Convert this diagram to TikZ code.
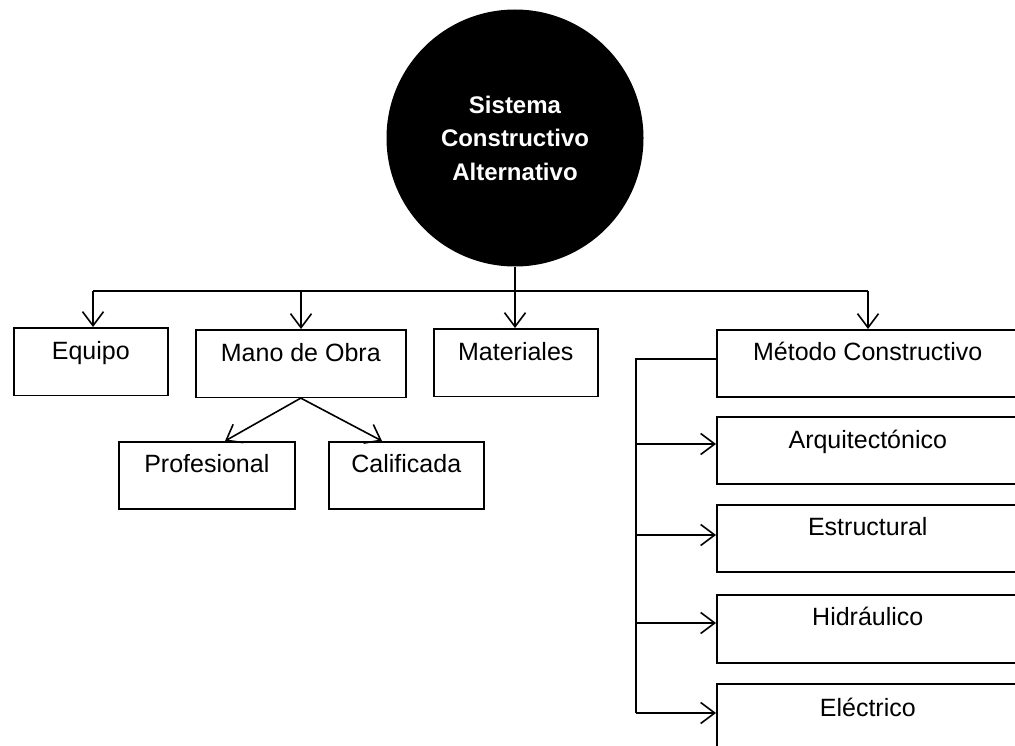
\documentclass[tikz,border=0pt]{standalone}
\usepackage{fontspec}
\setmainfont{Liberation Sans}
\usetikzlibrary{arrows.meta}
\begin{document}
\begin{tikzpicture}[x=1pt,y=-1pt,
  box/.style={draw, line width=1.6pt, inner xsep=0pt, inner ysep=0pt,
    text height=32pt, text depth=35.5pt, anchor=north west,
    font=\fontsize{25}{28}\selectfont},
  conn/.style={line width=1.6pt},
  arr/.style={conn, -{Straight Barb[length=14pt,width=21pt,line width=1.6pt]}}]
\useasboundingbox (0,0) rectangle (1015,746);
\fill[white] (0,0) rectangle (1015,746);

\node[circle, fill=black, minimum size=257pt, inner sep=0pt, text=white,
  align=center, font=\bfseries\fontsize{24}{33.5}\selectfont]
  (sca) at (515,138) {Sistema\\Constructivo\\Alternativo};

\node[box, minimum width=154pt] (equipo) at (13,327) {Equipo};
\node[box, minimum width=210pt] (mano) at (195,329) {Mano de Obra};
\node[box, minimum width=164pt] (materiales) at (433,328) {Materiales};
\node[box, minimum width=302pt, text height=31pt, text depth=36pt] (metodo) at (716,329) {Método Constructivo};
\node[box, minimum width=302pt, text height=32pt, text depth=35pt] (arqui) at (716,416) {Arquitectónico};
\node[box, minimum width=302pt, text height=31pt, text depth=36pt] (estruc) at (716,504) {Estructural};
\node[box, minimum width=302pt, text height=31pt, text depth=37pt] (hidra) at (716,594) {Hidráulico};
\node[box, minimum width=302pt, text height=33pt, text depth=50pt] (elec) at (716,683) {Eléctrico};
\node[box, minimum width=176pt, text height=30.5pt, text depth=36.5pt] (prof) at (118,441) {Profesional};
\node[box, minimum width=155pt, text height=30.5pt, text depth=36.5pt] (calif) at (328,441) {Calificada};

% top distribution
\coordinate (hl) at (93,291);
\coordinate (hm) at (301,291);
\coordinate (hr) at (868,291);
\draw[conn] (hl) -- (hr);
\draw[arr] (sca.south) -- (sca.south |- materiales.north);
\draw[arr] (hl) -- (hl |- equipo.north);
\draw[arr] (hm) -- (hm |- mano.north);
\draw[arr] (hr) -- (hr |- metodo.north);

% mano de obra branches
\draw[arr] (mano.south) -- ([xshift=107pt]prof.north west);
\draw[arr] (mano.south) -- ([xshift=54pt]calif.north west);

% metodo trunk
\coordinate (t0) at (636,359);
\coordinate (t1) at (636,444);
\coordinate (t2) at (636,535);
\coordinate (t3) at (636,623);
\coordinate (t4) at (636,713);
\draw[conn] (metodo.west |- t0) -- (t0) -- (t4);
\draw[arr] (t1) -- (t1 -| arqui.west);
\draw[arr] (t2) -- (t2 -| estruc.west);
\draw[arr] (t3) -- (t3 -| hidra.west);
\draw[arr] (t4) -- (t4 -| elec.west);
\end{tikzpicture}
\end{document}
